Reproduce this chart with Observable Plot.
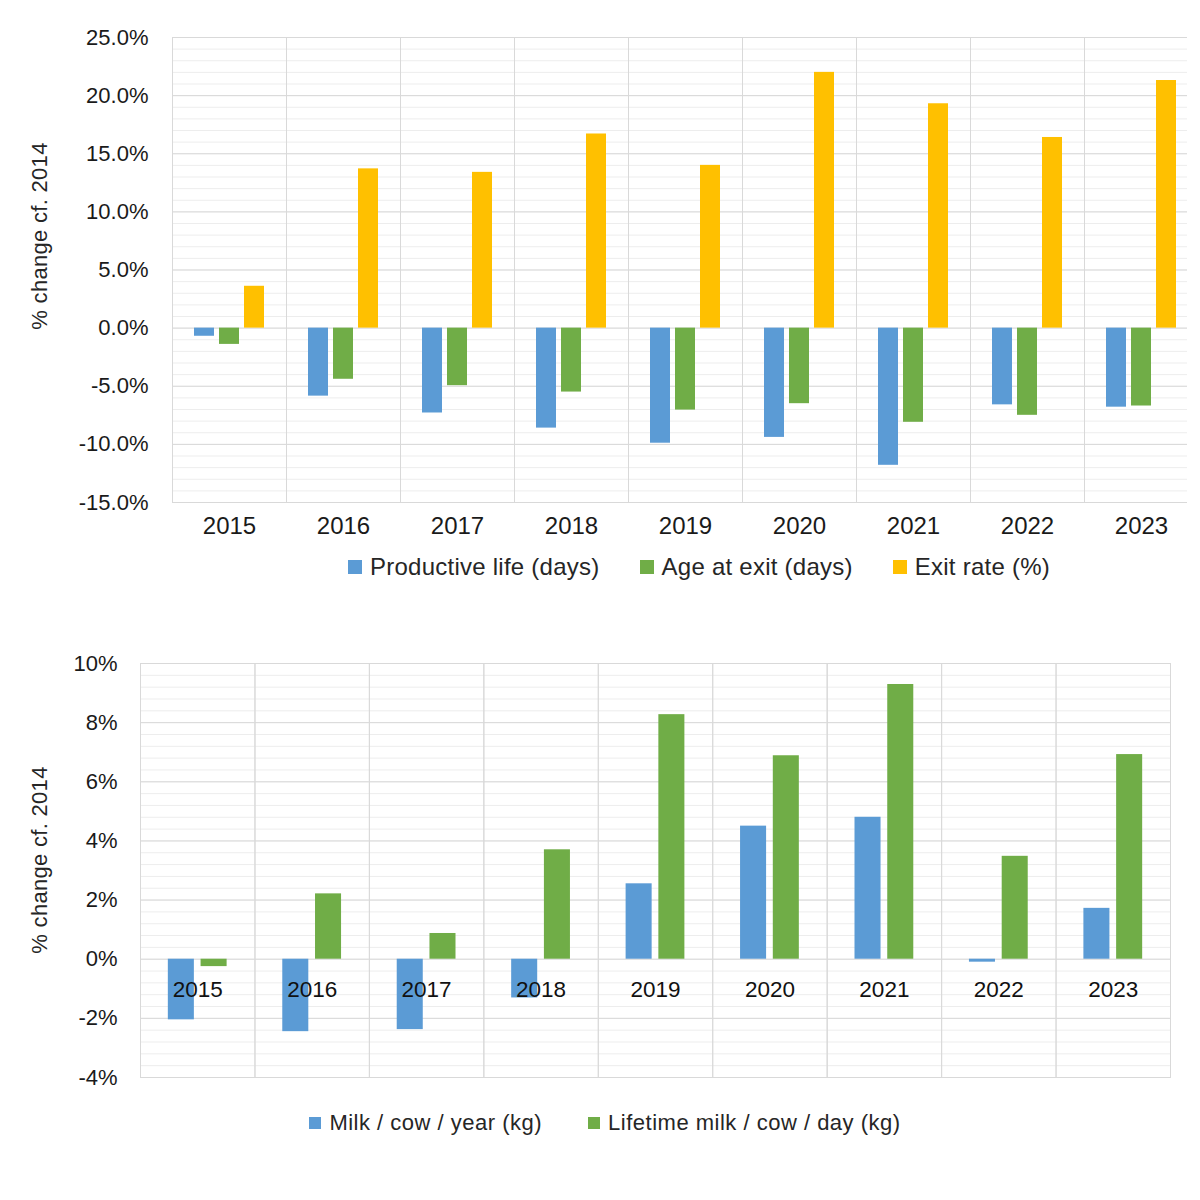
<!DOCTYPE html>
<html>
<head>
<meta charset="utf-8">
<script src="https://cdn.jsdelivr.net/npm/d3@7"></script>
<script src="https://cdn.jsdelivr.net/npm/@observablehq/plot@0.6"></script>
<style>
  html, body { margin: 0; padding: 0; background: #fff; }
  #page { position: relative; width: 1200px; height: 1200px; overflow: hidden; font-family: "Liberation Sans", Arial, sans-serif; color: #1a1a1a; }
  .abs { position: absolute; }
  #top svg { max-width: none !important; width: 1200px !important; height: 545px !important; }
  .ytitle { position: absolute; white-space: nowrap; transform: translate(-50%, -50%) rotate(-90deg); font-size: 22px; color: #262626; letter-spacing: 0.3px; }
  .legend { position: absolute; width: 1000px; display: flex; justify-content: center; align-items: center; gap: 40px; color: #262626; }
  .item { display: flex; align-items: center; gap: 8px; white-space: nowrap; }
  .sw { display: inline-block; }
</style>
</head>
<body>
<div id="page">
  <div id="top" class="abs" style="left:0; top:0; width:1187px; height:545px; overflow:hidden;"></div>
  <div class="ytitle" style="left:40px; top:236px;">% change cf. 2014</div>
  <div id="legendTop" class="legend" style="left:199px; top:553px; height:28px; font-size:24px; letter-spacing:0.25px;"></div>
  <div id="bottom" class="abs" style="left:0; top:600px;"></div>
  <div class="ytitle" style="left:40px; top:860px;">% change cf. 2014</div>
  <div id="legendBottom" class="legend" style="left:105px; top:1109px; height:28px; font-size:22px; gap:46px; letter-spacing:0.5px;"></div>
</div>
<script>
// ---- Data ----
const years = ["2015", "2016", "2017", "2018", "2019", "2020", "2021", "2022", "2023"];

// Top chart series (% change cf. 2014)
const topSeries = ["Productive life (days)", "Age at exit (days)", "Exit rate (%)"];
const topColors = ["#5B9BD5", "#70AD47", "#FFC000"];
const productiveLife = [-0.7, -5.85, -7.3, -8.6, -9.9, -9.4, -11.8, -6.6, -6.8];
const ageAtExit = [-1.4, -4.4, -4.95, -5.5, -7.05, -6.5, -8.1, -7.5, -6.7];
const exitRate = [3.6, 13.7, 13.4, 16.7, 14.0, 22.0, 19.3, 16.4, 21.3];
const topTicks = [-15, -10, -5, 0, 5, 10, 15, 20, 25];

// Bottom chart series (% change cf. 2014)
const bottomSeries = ["Milk / cow / year (kg)", "Lifetime milk / cow / day (kg)"];
const bottomColors = ["#5B9BD5", "#70AD47"];
const milkPerYear = [-2.05, -2.45, -2.38, -1.31, 2.55, 4.5, 4.8, -0.1, 1.72];
const lifetimeMilkPerDay = [-0.25, 2.21, 0.87, 3.7, 8.27, 6.88, 9.29, 3.48, 6.92];
const bottomTicks = [-4, -2, 0, 2, 4, 6, 8, 10];

// ---- Build long tables ----
const topValues = [productiveLife, ageAtExit, exitRate];
const topData = [];
topSeries.forEach((s, i) => years.forEach((y, j) => topData.push({year: y, series: s, value: topValues[i][j]})));
const bottomValues = [milkPerYear, lifetimeMilkPerDay];
const bottomData = [];
bottomSeries.forEach((s, i) => years.forEach((y, j) => bottomData.push({year: y, series: s, value: bottomValues[i][j]})));

const majorGrid = "#d9d9d9";
const minorGrid = "#ededed";
const font = "'Liberation Sans', Arial, sans-serif";

// ---- Top chart ----
const topMinor = d3.range(-15, 25.001, 1);
const topPlot = Plot.plot({
  width: 1200,
  height: 545,
  marginLeft: 172,
  marginRight: 2,
  marginTop: 37,
  marginBottom: 43,
  style: {fontFamily: font, color: "#1a1a1a", background: "#fff", maxWidth: "none"},
  fx: {domain: years, padding: 0, round: false, label: null},
  x: {domain: topSeries, paddingInner: 0.2, paddingOuter: 0.88, round: false, axis: null},
  y: {domain: [-15, 25], axis: null},
  color: {domain: topSeries, range: topColors},
  marks: [
    Plot.gridY(topMinor, {stroke: minorGrid, strokeOpacity: 1}),
    Plot.gridY(topTicks, {stroke: majorGrid, strokeOpacity: 1}),
    Plot.frame({anchor: "left", stroke: majorGrid}),
    Plot.barY(topData, {fx: "year", x: "series", y: "value", fill: "series"}),
    Plot.axisY({ticks: topTicks, tickFormat: d => d.toFixed(1) + "%", tickSize: 0, tickPadding: 24, fontSize: 22, label: null}),
    Plot.axisFx({anchor: "bottom", tickSize: 0, tickPadding: 14, fontSize: 24, label: null})
  ]
});
topPlot.style.maxWidth = "none";
document.getElementById("top").appendChild(topPlot);

// ---- Bottom chart ----
const bottomMinor = d3.range(-4, 10.001, 0.4);
const bottomPlot = Plot.plot({
  width: 1200,
  height: 500,
  marginLeft: 140,
  marginRight: 30,
  marginTop: 63,
  marginBottom: 23,
  style: {fontFamily: font, color: "#1a1a1a", background: "#fff"},
  fx: {domain: years, padding: 0, round: false, axis: null, label: null},
  x: {domain: bottomSeries, paddingInner: 0.205, paddingOuter: 0.85, round: false, axis: null},
  y: {domain: [-4, 10], axis: null},
  color: {domain: bottomSeries, range: bottomColors},
  marks: [
    Plot.gridY(bottomMinor, {stroke: minorGrid, strokeOpacity: 1}),
    Plot.gridY(bottomTicks, {stroke: majorGrid, strokeOpacity: 1}),
    Plot.frame({stroke: majorGrid}),
    Plot.barY(bottomData, {fx: "year", x: "series", y: "value", fill: "series"}),
    Plot.axisY({ticks: bottomTicks, tickFormat: d => d + "%", tickSize: 0, tickPadding: 23, fontSize: 22, label: null}),
    Plot.text(years, {fx: d => d, y: d => 0, text: d => d, dy: 31, fontSize: 22.5, fill: "#111"})
  ]
});
document.getElementById("bottom").appendChild(bottomPlot);

// ---- Legends ----
function legend(el, names, colors, size) {
  names.forEach((n, i) => {
    const item = document.createElement("div");
    item.className = "item";
    const sw = document.createElement("span");
    sw.className = "sw";
    sw.style.width = size + "px";
    sw.style.height = size + "px";
    sw.style.background = colors[i];
    const t = document.createElement("span");
    t.textContent = n;
    item.appendChild(sw);
    item.appendChild(t);
    el.appendChild(item);
  });
}
legend(document.getElementById("legendTop"), topSeries, topColors, 14);
legend(document.getElementById("legendBottom"), bottomSeries, bottomColors, 12);
</script>
</body>
</html>
